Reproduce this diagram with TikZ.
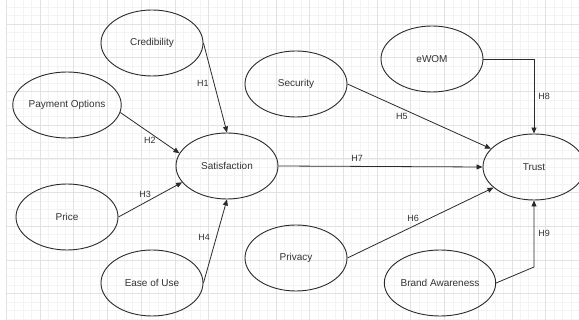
\documentclass[tikz,border=0pt]{standalone}
\usepackage{fontspec}
\setmainfont{Liberation Sans}
\usetikzlibrary{arrows.meta,shapes.geometric,positioning}

\definecolor{inkgray}{HTML}{2B2B2B}
\definecolor{textgray}{HTML}{333333}
\definecolor{gridminor}{HTML}{F3F3F3}
\definecolor{gridmajor}{HTML}{E2E2E2}

\tikzset{
  construct/.style={ellipse, draw=inkgray, line width=0.9pt, minimum width=102pt,
    minimum height=66pt, inner sep=0pt, text=textgray, font=\fontsize{10}{12}\selectfont},
  hyp/.style={draw=inkgray, line width=0.8pt, -{Triangle[length=6pt,width=5pt]}},
  hlabel/.style={text=textgray, font=\fontsize{9}{11}\selectfont, inner sep=1pt},
  minorgrid/.style={draw=gridminor, line width=0.5pt},
  majorgrid/.style={draw=gridmajor, line width=0.6pt}
}

\begin{document}
\begin{tikzpicture}[x=1pt,y=-1pt]
\useasboundingbox[fill=white] (0,0) rectangle (579,320);
% background grid
\foreach \i in {0,...,68} \draw[minorgrid] ({6.3+8.425*\i},0) -- ({6.3+8.425*\i},320);
\foreach \j in {2,...,39} \draw[minorgrid] (6.3,{-9.7+8.425*\j}) -- (579,{-9.7+8.425*\j});
\foreach \i in {0,...,17} \draw[majorgrid] ({6.3+33.7*\i},0) -- ({6.3+33.7*\i},320);
\foreach \j in {1,...,9} \draw[majorgrid] (6.3,{-9.7+33.7*\j}) -- (579,{-9.7+33.7*\j});

% constructs
\node[construct] (cred) at (152,43) {Credibility};
\node[construct] (pay) at (67,105) {Payment Options};
\node[construct] (price) at (67,217) {Price};
\node[construct] (ease) at (152,283) {Ease of Use};
\node[construct] (sat) at (227,166) {Satisfaction};
\node[construct] (sec) at (296,84) {Security};
\node[construct] (priv) at (296,258) {Privacy};
\node[construct] (ewom) at (432,59) {eWOM};
\node[construct] (brand) at (440,283) {Brand Awareness};
\node[construct] (trust) at (534,167) {Trust};
\coordinate (bend9) at (534,267);

% hypotheses
\draw[hyp] (cred.east) -- node[hlabel, pos=0.45, left=4pt] {H1} (sat.north);
\draw[hyp] (pay.-8) -- node[hlabel, pos=0.5, below=3pt] {H2} (sat.165);
\draw[hyp] (price.east) -- node[hlabel, pos=0.42, above=3pt] {H3} (sat.200);
\draw[hyp] (ease.east) -- node[hlabel, pos=0.55, left=5pt] {H4} (sat.south);
\draw[hyp] (sec.east) -- node[hlabel, pos=0.38, below=3pt] {H5} (trust.157);
\draw[hyp] (priv.east) -- node[hlabel, pos=0.45, above=3pt] {H6} (trust.207);
\draw[hyp] (sat.east) -- node[hlabel, pos=0.385, above=3pt] {H7} (trust.west);
\draw[hyp] (ewom.east) -| node[hlabel, pos=0.75, right=3pt] {H8} (trust.north);
\draw[hyp] (brand.east) -- (bend9) -- node[hlabel, pos=0.5, right=3pt] {H9} (trust.south);
\end{tikzpicture}
\end{document}
